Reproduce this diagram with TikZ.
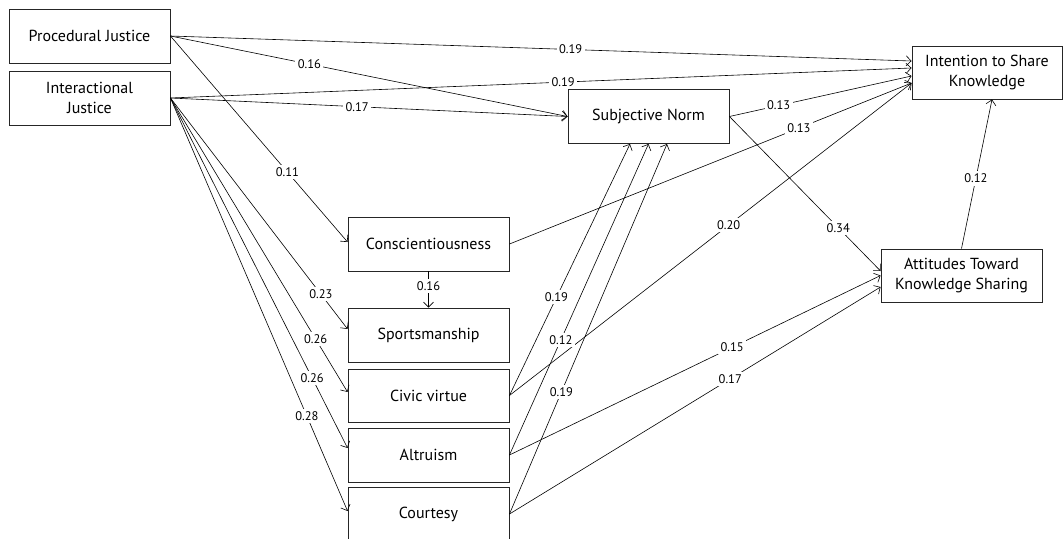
\documentclass[tikz,border=0pt]{standalone}
\usepackage{fontspec}
\setmainfont{PT Sans}
\usetikzlibrary{arrows.meta}
\tikzset{
  box/.style={draw=black!85, line width=0.9pt, rectangle, minimum width=161pt, minimum height=54pt, align=center, inner sep=2pt, font=\fontsize{16}{20}\selectfont},
  conn/.style={draw=black, line width=0.6pt, -{Straight Barb[length=5pt,width=10pt]}},
  lab/.style={fill=white, inner sep=2.5pt, font=\fontsize{12.5}{13}\selectfont}
}
\begin{document}
\begin{tikzpicture}[x=1pt,y=-1pt]
\useasboundingbox (0,0) rectangle (1064,538);
\node[box] (PJ) at (89.5,36) {Procedural Justice};
\node[box] (IJ) at (89.5,98) {Interactional\\Justice};
\node[box] (SN) at (648.5,116.5) {Subjective Norm};
\node[box, minimum width=150pt, minimum height=53pt] (ISK) at (987,72.5) {Intention to Share\\Knowledge};
\node[box] (CO) at (428.5,244) {Conscientiousness};
\node[box] (SP) at (428.5,335) {Sportsmanship};
\node[box, minimum height=53pt] (CV) at (428.5,395.5) {Civic virtue};
\node[box] (AL) at (428.5,455) {Altruism};
\node[box] (CT) at (428.5,514) {Courtesy};
\node[box, minimum height=53pt] (AT) at (961.5,275.5) {Attitudes Toward\\Knowledge Sharing};

\draw[conn] (PJ.east) -- node[lab, pos=0.54] {0.19} ([yshift=11.5pt]ISK.west);
\draw[conn] (PJ.east) -- node[lab, pos=0.35] {0.16} (SN.west);
\draw[conn] (PJ.east) -- node[lab, pos=0.66] {0.11} ([yshift=2pt]CO.west);
\draw[conn] (IJ.east) -- node[lab, pos=0.53] {0.19} ([yshift=4.5pt]ISK.west);
\draw[conn] (IJ.east) -- node[lab, pos=0.47] {0.17} (SN.west);
\draw[conn] (IJ.east) -- node[lab, pos=0.85] {0.23} ([yshift=6pt]SP.west);
\draw[conn] (IJ.east) -- node[lab, pos=0.82] {0.26} ([yshift=3.5pt]CV.west);
\draw[conn] (IJ.east) -- node[lab, pos=0.80] {0.26} ([yshift=7pt]AL.west);
\draw[conn] (IJ.east) -- node[lab, pos=0.77] {0.28} ([yshift=3pt]CT.west);
\draw[conn] (CO.south) -- node[lab, pos=0.4] {0.16} (SP.north);
\draw[conn] (CO.east) -- node[lab, pos=0.72] {0.13} ([yshift=-10.5pt]ISK.west);
\draw[conn] (SN.east) -- node[lab, pos=0.27] {0.13} ([yshift=-3.5pt]ISK.west);
\draw[conn] (SN.east) -- node[lab, pos=0.72] {0.34} ([yshift=4.5pt]AT.west);
\draw[conn] (CV.east) -- node[lab, pos=0.39] {0.19} ([xshift=-18.5pt]SN.south);
\draw[conn] (CV.east) -- node[lab, pos=0.545] {0.20} ([yshift=-10.5pt]ISK.west);
\draw[conn] (AL.east) -- node[lab, pos=0.37] {0.12} (SN.south);
\draw[conn] (AL.east) -- node[lab, pos=0.6] {0.15} (AT.west);
\draw[conn] (CT.east) -- node[lab, pos=0.33] {0.19} ([xshift=18.5pt]SN.south);
\draw[conn] (CT.east) -- node[lab, pos=0.595] {0.17} ([yshift=-11.5pt]AT.west);
\draw[conn] (AT.north) -- node[lab, pos=0.47] {0.12} ([xshift=5pt]ISK.south);
\end{tikzpicture}
\end{document}
